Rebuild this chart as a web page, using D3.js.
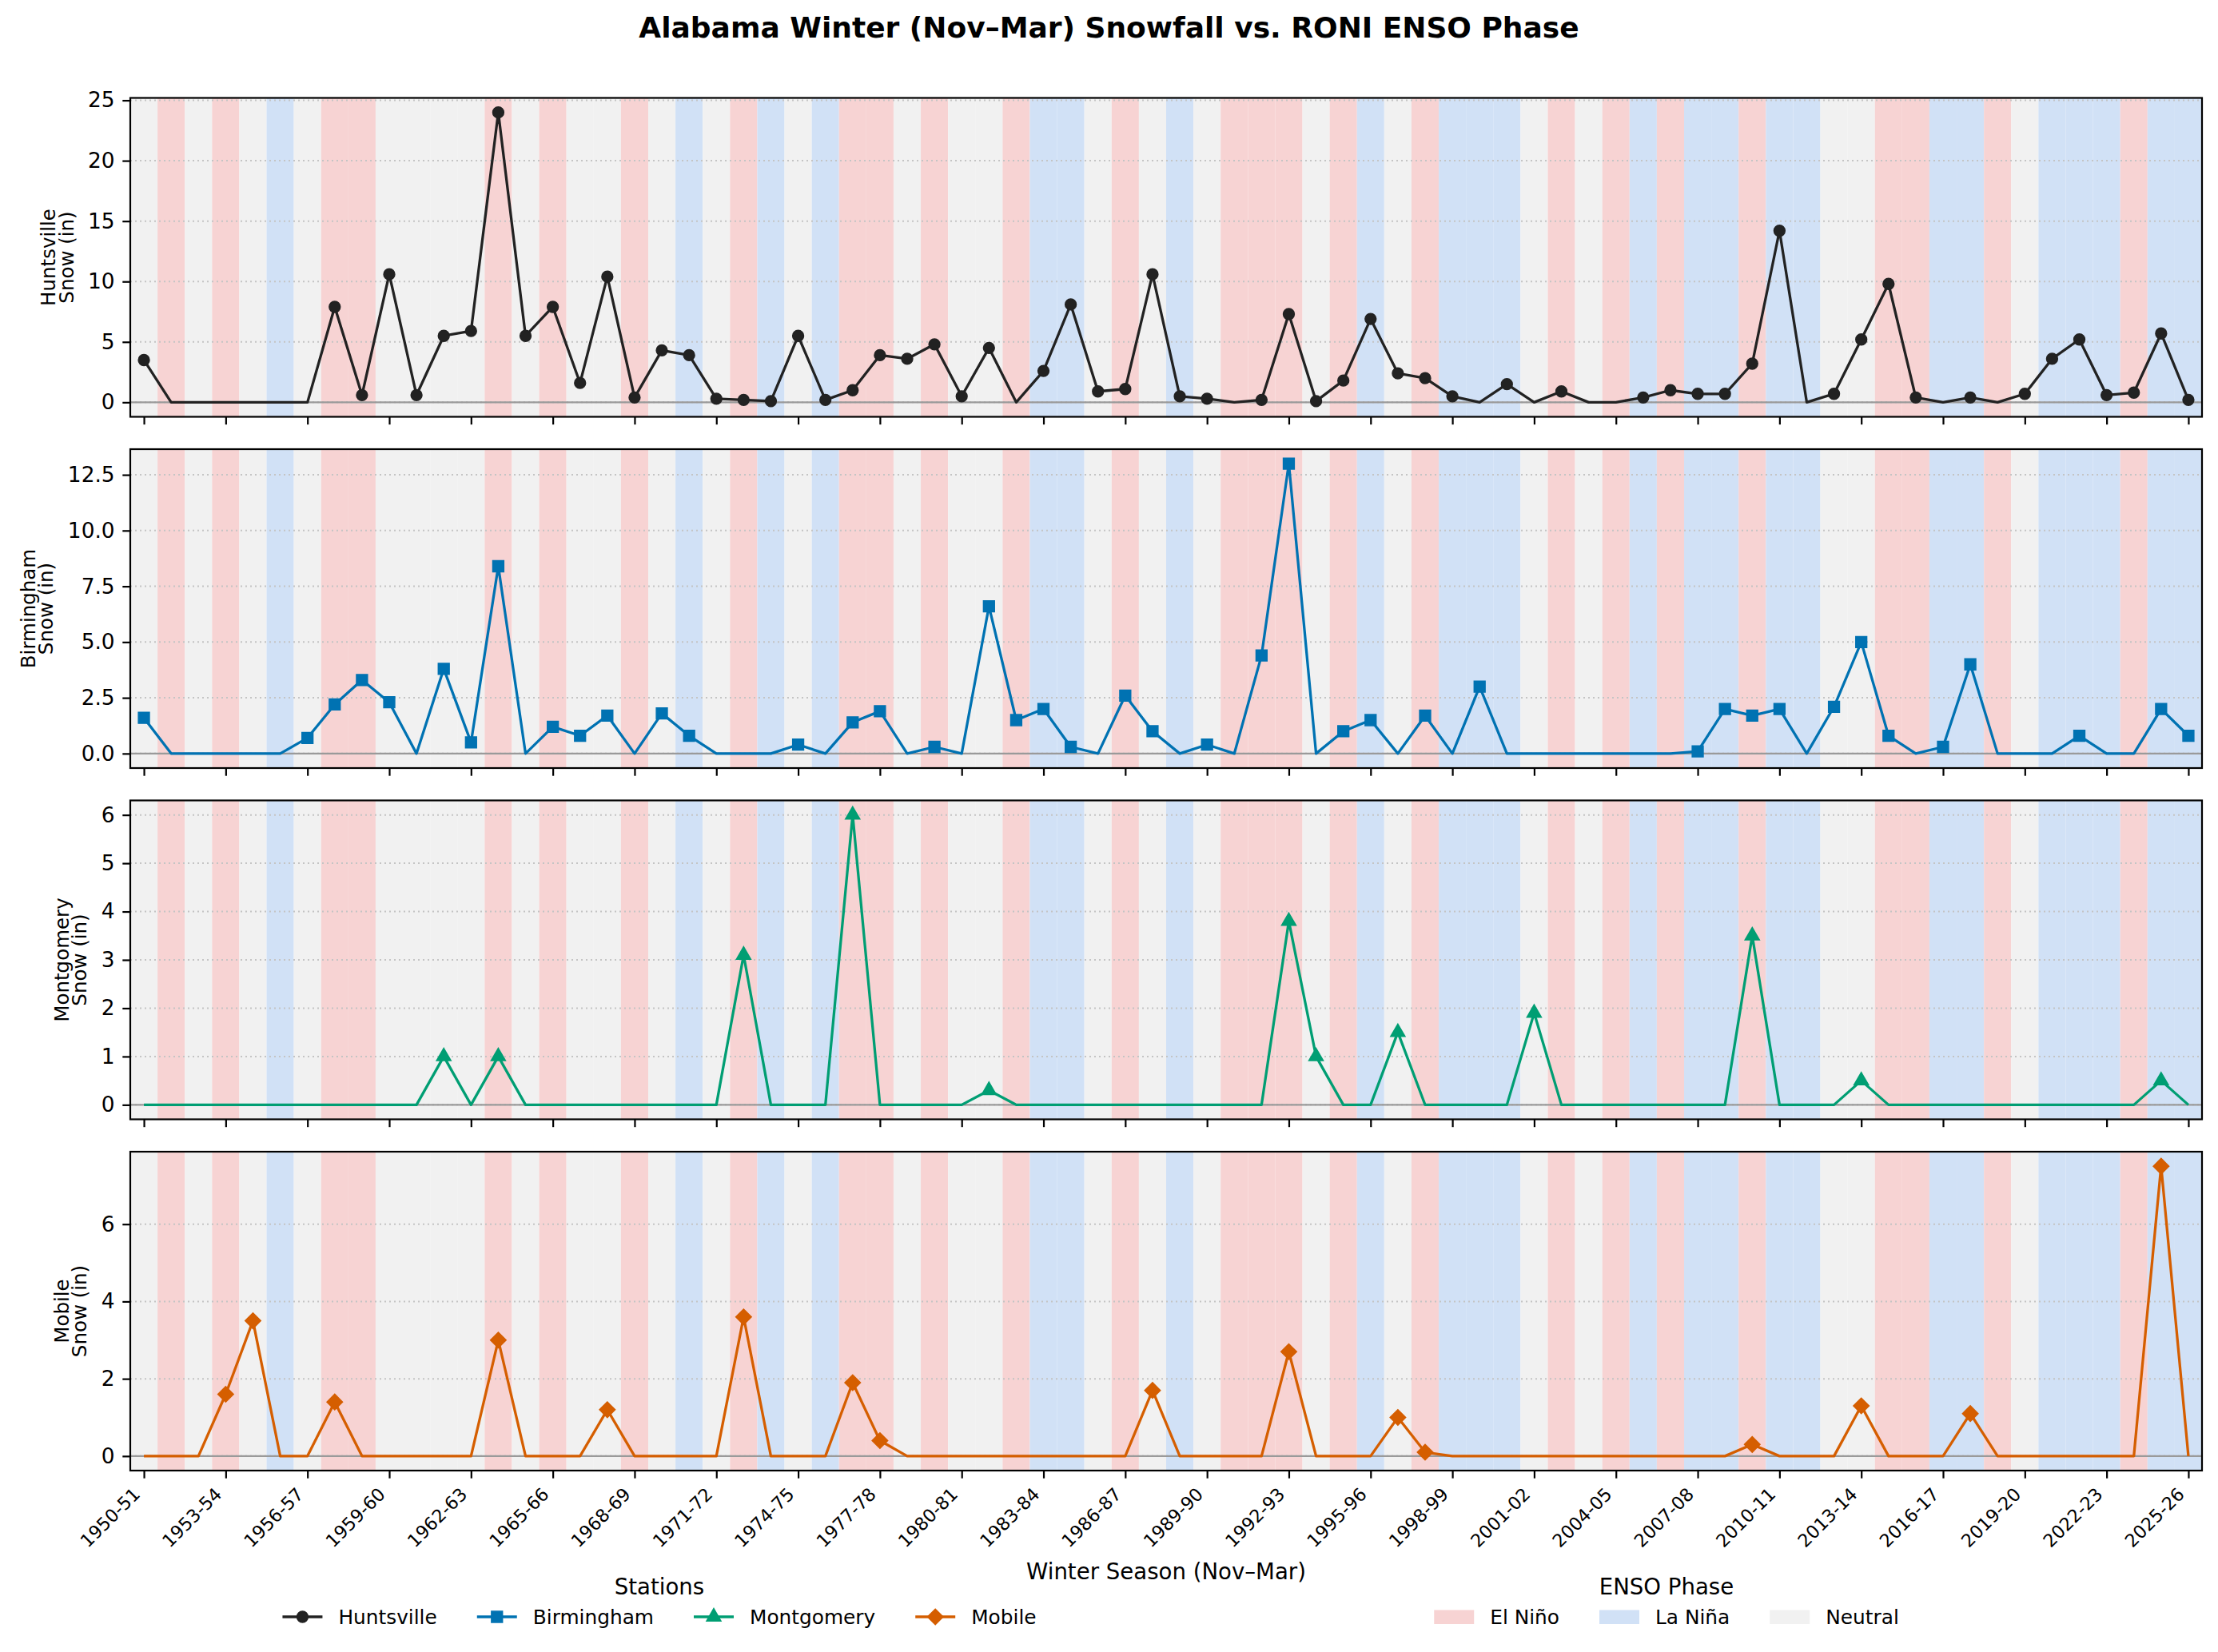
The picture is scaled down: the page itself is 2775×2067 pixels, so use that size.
<!DOCTYPE html>
<html>
<head>
<meta charset="utf-8">
<script src="https://cdn.jsdelivr.net/npm/d3@7"></script>
<style>
  body { margin: 0; background: #fff; }
  text { font-family: "DejaVu Sans", sans-serif; }
</style>
</head>
<body>
<div id="chart"></div>
<script>
// Winter seasons (Nov-Mar)
const seasons = [
  "1950-51","1951-52","1952-53","1953-54","1954-55","1955-56","1956-57","1957-58","1958-59","1959-60",
  "1960-61","1961-62","1962-63","1963-64","1964-65","1965-66","1966-67","1967-68","1968-69","1969-70",
  "1970-71","1971-72","1972-73","1973-74","1974-75","1975-76","1976-77","1977-78","1978-79","1979-80",
  "1980-81","1981-82","1982-83","1983-84","1984-85","1985-86","1986-87","1987-88","1988-89","1989-90",
  "1990-91","1991-92","1992-93","1993-94","1994-95","1995-96","1996-97","1997-98","1998-99","1999-00",
  "2000-01","2001-02","2002-03","2003-04","2004-05","2005-06","2006-07","2007-08","2008-09","2009-10",
  "2010-11","2011-12","2012-13","2013-14","2014-15","2015-16","2016-17","2017-18","2018-19","2019-20",
  "2020-21","2021-22","2022-23","2023-24","2024-25","2025-26"
];

// RONI ENSO phase per season: E = El Niño, L = La Niña, N = Neutral
const ensoPhase = [
  "N","E","N","E","N","L","N","E","E","N",
  "N","N","N","E","N","E","N","N","E","N",
  "L","N","E","L","N","L","E","E","N","E",
  "N","N","E","L","L","N","E","N","L","N",
  "E","E","E","N","E","L","N","E","L","L",
  "L","N","E","N","E","L","E","L","L","E",
  "L","L","N","N","E","E","L","L","E","N",
  "L","L","L","E","L","L"
];

// Seasonal snowfall (in)
const huntsville = [
  3.5,0,0,0,0,0,0,7.9,0.6,10.6,
  0.6,5.5,5.9,24.0,5.5,7.9,1.6,10.4,0.4,4.3,
  3.9,0.3,0.2,0.1,5.5,0.2,1.0,3.9,3.6,4.8,
  0.5,4.5,0,2.6,8.1,0.9,1.1,10.6,0.5,0.3,
  0,0.2,7.3,0.1,1.8,6.9,2.4,2.0,0.5,0,
  1.5,0,0.9,0,0,0.4,1.0,0.7,0.7,3.2,
  14.2,0,0.7,5.2,9.8,0.4,0,0.4,0,0.7,
  3.6,5.2,0.6,0.8,5.7,0.2
];
const birmingham = [
  1.6,0,0,0,0,0,0.7,2.2,3.3,2.3,
  0,3.8,0.5,8.4,0,1.2,0.8,1.7,0,1.8,
  0.8,0,0,0,0.4,0,1.4,1.9,0,0.3,
  0,6.6,1.5,2.0,0.3,0,2.6,1.0,0,0.4,
  0,4.4,13.0,0,1.0,1.5,0,1.7,0,3.0,
  0,0,0,0,0,0,0,0.1,2.0,1.7,
  2.0,0,2.1,5.0,0.8,0,0.3,4.0,0,0,
  0,0.8,0,0,2.0,0.8
];
const montgomery = [
  0,0,0,0,0,0,0,0,0,0,
  0,1.0,0,1.0,0,0,0,0,0,0,
  0,0,3.1,0,0,0,6.0,0,0,0,
  0,0.3,0,0,0,0,0,0,0,0,
  0,0,3.8,1.0,0,0,1.5,0,0,0,
  0,1.9,0,0,0,0,0,0,0,3.5,
  0,0,0,0.5,0,0,0,0,0,0,
  0,0,0,0,0.5,0
];
const mobile = [
  0,0,0,1.6,3.5,0,0,1.4,0,0,
  0,0,0,3.0,0,0,0,1.2,0,0,
  0,0,3.6,0,0,0,1.9,0.4,0,0,
  0,0,0,0,0,0,0,1.7,0,0,
  0,0,2.7,0,0,0,1.0,0.1,0,0,
  0,0,0,0,0,0,0,0,0,0.3,
  0,0,0,1.3,0,0,0,1.1,0,0,
  0,0,0,0,7.5,0
];

// y tick values per panel
const huntsvilleTicks = [0, 5, 10, 15, 20, 25];
const birminghamTicks = [0, 2.5, 5, 7.5, 10, 12.5];
const montgomeryTicks = [0, 1, 2, 3, 4, 5, 6];
const mobileTicks = [0, 2, 4, 6];

const phaseNames = ["El Niño", "La Niña", "Neutral"];
const phaseKeys = ["E", "L", "N"];

//Figure dimensions
var W = 2775, H = 2067;
var plotLeft = 163, plotRight = 2755, panelH = 399;
var panelTops = [122.5, 562, 1001.5, 1441];
var tickLen = 9.7, tickPad = 9.7;

var phaseColor = { E: "#f7d3d3", L: "#d1e1f6", N: "#f1f1f1" };

var stations = [
    { name: "Huntsville", values: huntsville, color: "#222222", symbol: d3.symbolCircle, size: 150, rot: 0, ticks: huntsvilleTicks, fmt: d3.format("d") },
    { name: "Birmingham", values: birmingham, color: "#0072B2", symbol: d3.symbolSquare, size: 190, rot: 0, ticks: birminghamTicks, fmt: d3.format(".1f") },
    { name: "Montgomery", values: montgomery, color: "#009E73", symbol: d3.symbolTriangle, size: 140, rot: 0, ticks: montgomeryTicks, fmt: d3.format("d") },
    { name: "Mobile", values: mobile, color: "#D55E00", symbol: d3.symbolSquare, size: 190, rot: 45, ticks: mobileTicks, fmt: d3.format("d") }
];

var svg = d3.select("#chart")
    .append("svg")
    .attr("width", W)
    .attr("height", H)
    .style("display", "block");

svg.append("rect").attr("width", W).attr("height", H).attr("fill", "#fff");

//Shared x scale, one slot per season
var x = d3.scaleLinear()
    .domain([-0.5, seasons.length - 0.5])
    .range([plotLeft, plotRight]);

stations.forEach(function (st, p) {
    var top = panelTops[p];
    var maxV = d3.max(st.values);
    var pad = maxV * 0.05;
    var y = d3.scaleLinear()
        .domain([-pad, maxV + pad])
        .range([top + panelH, top]);

    var g = svg.append("g");

    //ENSO phase background bands
    g.selectAll("rect.band")
        .data(ensoPhase)
        .enter().append("rect")
        .attr("class", "band")
        .attr("x", function (d, i) { return x(i - 0.5); })
        .attr("width", function (d, i) { return x(i + 0.5) - x(i - 0.5); })
        .attr("y", top)
        .attr("height", panelH)
        .attr("fill", function (d) { return phaseColor[d]; });

    //Dotted horizontal gridlines
    g.selectAll("line.grid")
        .data(st.ticks)
        .enter().append("line")
        .attr("class", "grid")
        .attr("x1", plotLeft).attr("x2", plotRight)
        .attr("y1", function (d) { return y(d); })
        .attr("y2", function (d) { return y(d); })
        .attr("stroke", "#c4c4c4")
        .attr("stroke-width", 2)
        .attr("stroke-dasharray", "2,4");

    //Zero reference line
    g.append("line")
        .attr("x1", plotLeft).attr("x2", plotRight)
        .attr("y1", y(0)).attr("y2", y(0))
        .attr("stroke", "#9a9a9a")
        .attr("stroke-width", 2.2);

    //Series line
    var line = d3.line()
        .x(function (d, i) { return x(i); })
        .y(function (d) { return y(d); });

    g.append("path")
        .datum(st.values)
        .attr("d", line)
        .attr("fill", "none")
        .attr("stroke", st.color)
        .attr("stroke-width", 3.3)
        .attr("stroke-linejoin", "round");

    //Markers only where snow fell
    var pts = st.values
        .map(function (v, i) { return { v: v, i: i }; })
        .filter(function (d) { return d.v > 0; });

    g.selectAll("path.mk")
        .data(pts)
        .enter().append("path")
        .attr("class", "mk")
        .attr("d", d3.symbol().type(st.symbol).size(st.size))
        .attr("transform", function (d) {
            return "translate(" + x(d.i) + "," + y(d.v) + ") rotate(" + st.rot + ")";
        })
        .attr("fill", st.color)
        .attr("stroke", st.color)
        .attr("stroke-width", 1.5);

    //Frame
    g.append("rect")
        .attr("x", plotLeft).attr("y", top)
        .attr("width", plotRight - plotLeft).attr("height", panelH)
        .attr("fill", "none")
        .attr("stroke", "#000")
        .attr("stroke-width", 2.2);

    //Y axis
    var ya = svg.append("g")
        .attr("transform", "translate(" + plotLeft + ",0)")
        .call(d3.axisLeft(y).tickValues(st.ticks).tickFormat(st.fmt).tickSize(tickLen).tickPadding(tickPad))
        .attr("font-family", "DejaVu Sans")
        .attr("font-size", 26.4);
    ya.select(".domain").remove();
    ya.selectAll(".tick line").attr("stroke", "#000").attr("stroke-width", 2.2);
    ya.selectAll(".tick text").attr("fill", "#000");

    //X axis (labels only on the bottom panel)
    var xa = svg.append("g")
        .attr("transform", "translate(0," + (top + panelH) + ")")
        .call(d3.axisBottom(x)
            .tickValues(d3.range(0, seasons.length, 3))
            .tickSize(tickLen)
            .tickFormat(function (i) { return p === stations.length - 1 ? seasons[i] : ""; }))
        .attr("font-family", "DejaVu Sans")
        .attr("font-size", 22.5);
    xa.select(".domain").remove();
    xa.selectAll(".tick line").attr("stroke", "#000").attr("stroke-width", 2.2);
    xa.selectAll(".tick text")
        .attr("fill", "#000")
        .attr("x", 0).attr("y", 0).attr("dy", 0)
        .style("text-anchor", "end")
        .attr("transform", "translate(-4,31) rotate(-45)");

    //Two-line y label, placed left of the tick labels
    var maxW = d3.max(ya.selectAll(".tick text").nodes(), function (n) { return n.getComputedTextLength(); });
    var labelRight = plotLeft - tickLen - tickPad - maxW - 12;
    var base2 = labelRight - 6.5;
    var cy = top + panelH / 2;
    [st.name, "Snow (in)"].forEach(function (t, k) {
        var bx = k === 0 ? base2 - 22.8 : base2;
        svg.append("text")
            .attr("transform", "translate(" + bx + "," + cy + ") rotate(-90)")
            .attr("text-anchor", "middle")
            .style("font-size", "24.5px")
            .attr("fill", "#000")
            .text(t);
    });
});

//Title
svg.append("text")
    .attr("x", W / 2)
    .attr("y", 46.5)
    .attr("text-anchor", "middle")
    .style("font-size", "36px")
    .style("font-weight", "bold")
    .text("Alabama Winter (Nov–Mar) Snowfall vs. RONI ENSO Phase");

//X axis label
svg.append("text")
    .attr("x", (plotLeft + plotRight) / 2)
    .attr("y", 1976)
    .attr("text-anchor", "middle")
    .style("font-size", "27.6px")
    .text("Winter Season (Nov–Mar)");

//Legend helper: lays entries out in one row centered on cx
function drawLegend(cx, title, items, drawHandle) {
    svg.append("text")
        .attr("x", cx).attr("y", 1994.5)
        .attr("text-anchor", "middle")
        .style("font-size", "27.6px")
        .text(title);

    var lg = svg.append("g");
    var cursor = 0;
    items.forEach(function (it, k) {
        var eg = lg.append("g").attr("transform", "translate(" + cursor + ",0)");
        drawHandle(eg, it);
        var t = eg.append("text")
            .attr("x", 70).attr("y", 2032)
            .style("font-size", "24.8px")
            .text(it.label);
        cursor += 70 + t.node().getComputedTextLength();
        if (k < items.length - 1) cursor += 50;
    });
    lg.attr("transform", "translate(" + (cx - cursor / 2) + ",0)");
}

drawLegend(825, "Stations",
    stations.map(function (s) { return { label: s.name, st: s }; }),
    function (eg, it) {
        eg.append("line")
            .attr("x1", 0).attr("x2", 50)
            .attr("y1", 2023).attr("y2", 2023)
            .attr("stroke", it.st.color).attr("stroke-width", 3.3);
        eg.append("path")
            .attr("d", d3.symbol().type(it.st.symbol).size(it.st.size))
            .attr("transform", "translate(25,2023) rotate(" + it.st.rot + ")")
            .attr("fill", it.st.color)
            .attr("stroke", it.st.color)
            .attr("stroke-width", 1.5);
    });

drawLegend(2085, "ENSO Phase",
    phaseKeys.map(function (k, i) { return { label: phaseNames[i], key: k }; }),
    function (eg, it) {
        eg.append("rect")
            .attr("x", 0).attr("y", 2014.5)
            .attr("width", 50).attr("height", 17.5)
            .attr("fill", phaseColor[it.key]);
    });
</script>
</body>
</html>
